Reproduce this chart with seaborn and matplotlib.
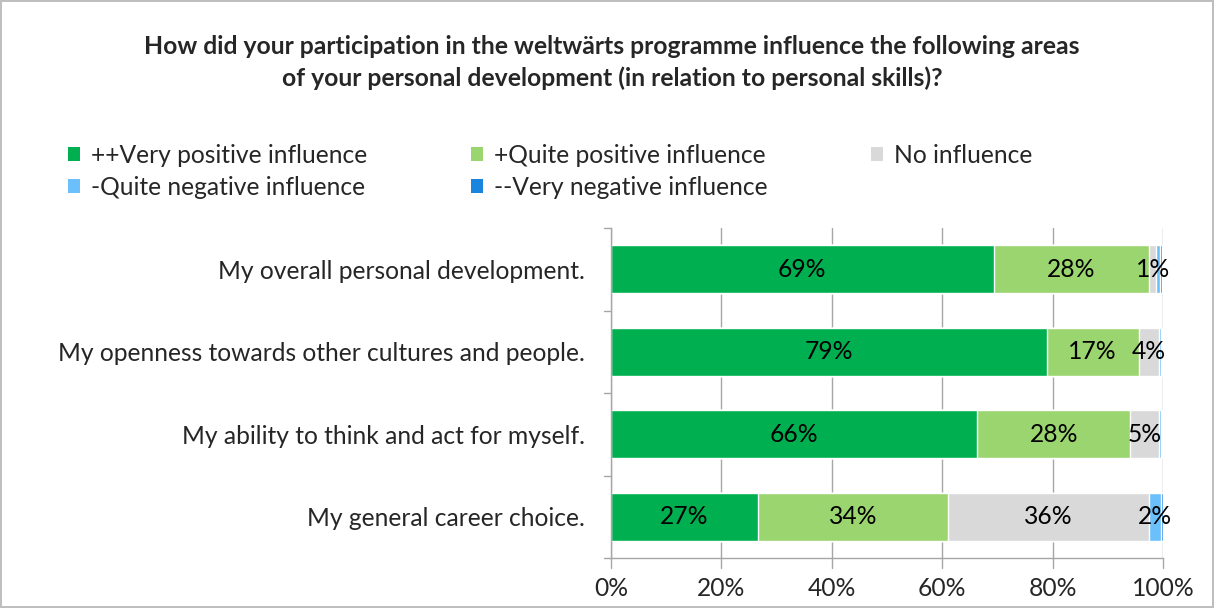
import matplotlib
matplotlib.use("Agg")
import matplotlib.pyplot as plt
import seaborn as sns
import pandas as pd
import numpy as np
from matplotlib.patches import Patch

categories = ["My overall personal development.",
              "My openness towards other cultures and people.",
              "My ability to think and act for myself.",
              "My general career choice."]
series_names = ["++Very positive influence", "+Quite positive influence", "No influence",
                "-Quite negative influence", "--Very negative influence"]
very_positive = [69.3, 78.9, 66.3, 26.6]
quite_positive = [28.2, 16.7, 27.8, 34.5]
no_influence = [1.3, 3.6, 5.2, 36.3]
quite_negative = [0.7, 0.4, 0.3, 2.2]
very_negative = [0.4, 0.3, 0.2, 0.4]
colors = ["#00B050", "#9BD56F", "#D9D9D9", "#6BC0FB", "#1A85DF"]
xtick_labels = ["0%", "20%", "40%", "60%", "80%", "100%"]

sns.set_style("white")
plt.rcParams['font.family'] = ['Lato', 'DejaVu Sans']

FS = 17.7

series = [very_positive, quite_positive, no_influence, quite_negative, very_negative]
vals = np.array(series)
cum = np.cumsum(vals, axis=0)

fig = plt.figure(figsize=(12.14, 6.08), dpi=100)
fig.patch.set_edgecolor("#BFBFBF")
fig.patch.set_linewidth(1.5)
ax = fig.add_axes([611/1214, 1-558/608, 552/1214, 330/608])

for i in range(len(series) - 1, -1, -1):
    df = pd.DataFrame({"cat": categories, "val": cum[i]})
    sns.barplot(data=df, x="val", y="cat", orient="h", color=colors[i], ax=ax,
                width=0.58, edgecolor="white", linewidth=1, saturation=1, zorder=3)

ax.set_xlim(0, 100)
ax.set_ylim(3.5, -0.5)
ax.set_xticks(np.arange(0, 101, 20))
ax.set_xticklabels(xtick_labels, fontsize=FS)
ax.set_xlabel("")
ax.set_ylabel("")
ax.tick_params(axis="y", labelsize=FS, length=0, pad=18.5)
ax.tick_params(axis="x", pad=14, length=0)
ax.xaxis.grid(True, color="#A6A6A6", linewidth=1, zorder=0)
for s in ["top", "right"]:
    ax.spines[s].set_visible(False)
for s in ["left", "bottom"]:
    ax.spines[s].set_color("#A6A6A6")
    ax.spines[s].set_linewidth(1)
    ax.spines[s].set_zorder(4)
# category boundary ticks on left, value ticks on bottom (Excel style)
for yb in np.arange(-0.5, 4.0, 1.0):
    ax.plot([-1.3, 0], [yb, yb], color="#A6A6A6", lw=1, clip_on=False, zorder=4)
for xv in np.arange(0, 101, 20):
    ax.plot([xv, xv], [3.5, 3.5 + 0.12], color="#A6A6A6", lw=1, clip_on=False, zorder=4)

for i in range(len(series)):
    for j in range(len(categories)):
        v = vals[i, j]
        if v >= 1:
            center = cum[i, j] - v / 2
            ax.text(center, j, f"{round(v):.0f}%", ha="center", va="center",
                    fontsize=FS, color="black", zorder=5)

fig.text(0.504, 1-46/608, "How did your participation in the weltwärts programme influence the following areas",
         ha="center", va="center", fontsize=17.8, fontweight="bold")
fig.text(0.504, 1-78/608, "of your personal development (in relation to personal skills)?",
         ha="center", va="center", fontsize=17.8, fontweight="bold")

handles = [Patch(facecolor=c, edgecolor="none") for c in colors]
order = [0, 3, 1, 4, 2]
fig.legend([handles[k] for k in order], [series_names[k] for k in order],
           ncol=3, loc="upper left", bbox_to_anchor=(63/1214, 1-139/608),
           frameon=False, fontsize=FS, handlelength=0.5, handleheight=0.5,
           handletextpad=0.45, columnspacing=4.2, labelspacing=0.36,
           borderaxespad=0, borderpad=0.2)

fig.savefig("out.png", dpi=100)
